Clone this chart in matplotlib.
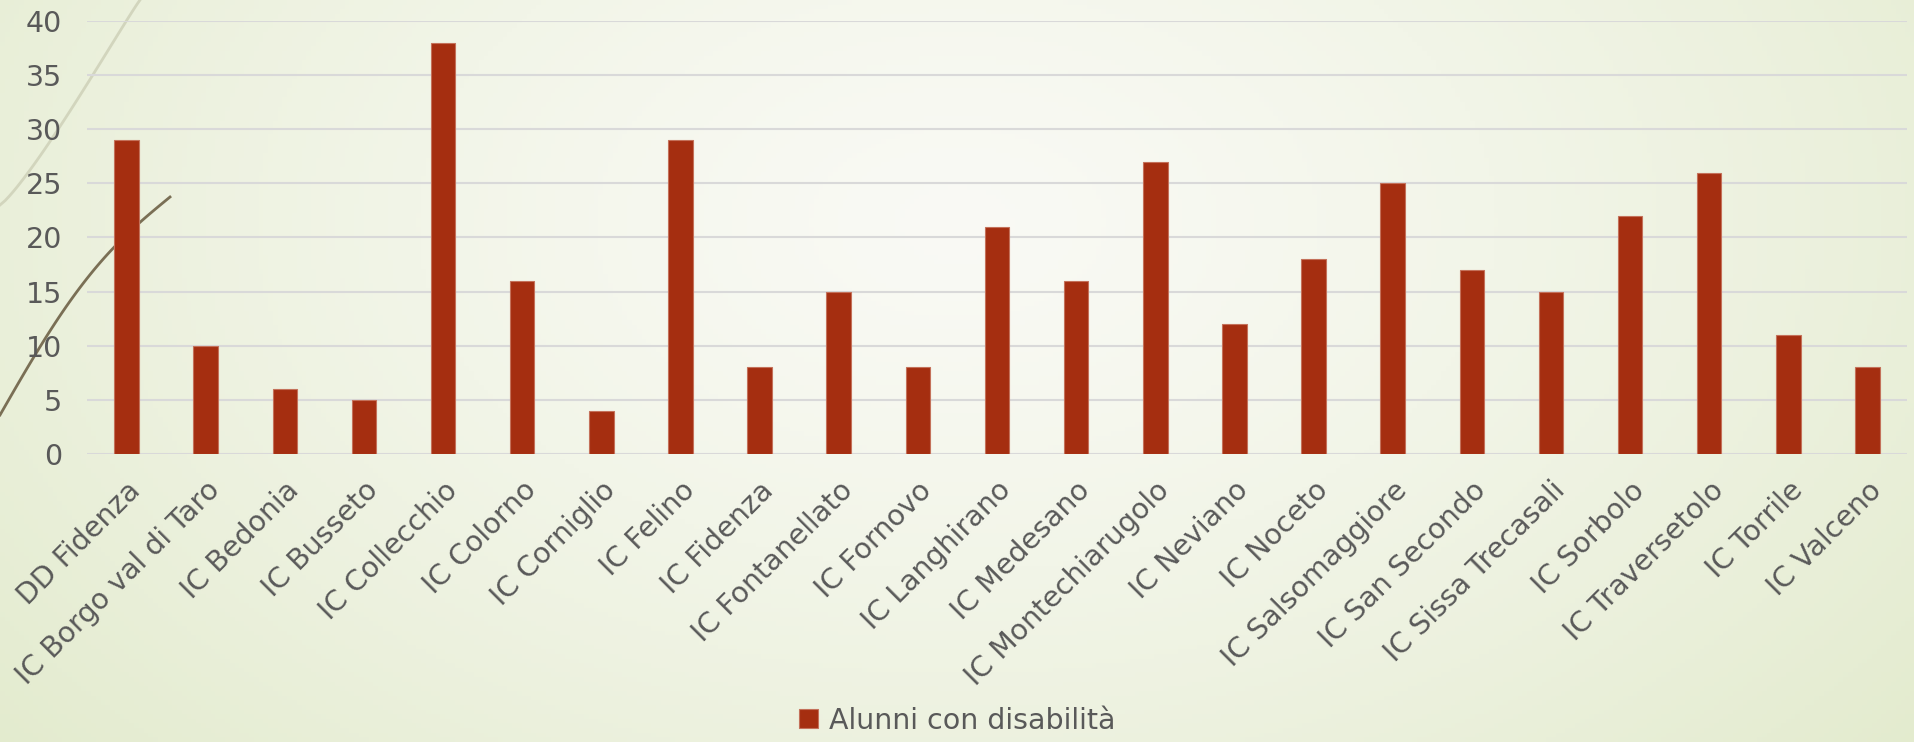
import numpy as np
import matplotlib.pyplot as plt

# data
scuole = ["DD Fidenza", "IC Borgo val di Taro", "IC Bedonia", "IC Busseto",
          "IC Collecchio", "IC Colorno", "IC Corniglio", "IC Felino",
          "IC Fidenza", "IC Fontanellato", "IC Fornovo", "IC Langhirano",
          "IC Medesano", "IC Montechiarugolo", "IC Neviano", "IC Noceto",
          "IC Salsomaggiore", "IC San Secondo", "IC Sissa Trecasali",
          "IC Sorbolo", "IC Traversetolo", "IC Torrile", "IC Valceno"]
alunni = [29, 10, 6, 5, 38, 16, 4, 29, 8, 15, 8, 21, 16, 27, 12, 18, 25, 17,
          15, 22, 26, 11, 8]
y_ticks = [0, 5, 10, 15, 20, 25, 30, 35, 40]
legend_label = "Alunni con disabilità"

plt.rcParams['font.family'] = ['DejaVu Sans']
testo = '#595959'

fig = plt.figure(figsize=(19.15, 7.42), dpi=100)

# background gradient (light green edges, paler centre)
bg = fig.add_axes([0, 0, 1, 1], zorder=0)
xx, yy = np.meshgrid(np.linspace(0, 1, 400), np.linspace(0, 1, 160))
d = np.sqrt(((xx - 0.5) / 0.72) ** 2 + ((yy - 0.3) / 1.2) ** 2)
d = np.clip(d, 0, 1)
c_centre = np.array([0.978, 0.98, 0.96])
c_edge = np.array([0.88, 0.915, 0.79])
img = c_centre + (c_edge - c_centre) * d[..., None] ** 1.3
bg.imshow(img, extent=[0, 1915, 742, 0], aspect='auto')
# decorative curves on the left
t = np.linspace(0, 1, 50)
bg.plot(140 * t ** 0.85, 205 * (1 - t) ** 1.05, color='#d2d5bd', lw=2)
bg.plot(170 * t, 415 - 218 * t - 25 * np.sin(np.pi * t), color='#7a6f55', lw=2)
bg.set_xlim(0, 1915)
bg.set_ylim(742, 0)
bg.axis('off')

ax = fig.add_axes([87 / 1915, 1 - 454 / 742, 1820 / 1915, 433 / 742], zorder=1)
ax.patch.set_alpha(0)
x = np.arange(len(scuole))
ax.bar(x, alunni, width=0.31, color='#a52e10', edgecolor='#c4715a',
       linewidth=0.8, label=legend_label, zorder=3)
ax.set_xlim(-0.5, len(scuole) - 0.5)
ax.set_ylim(0, 40)
ax.set_yticks(y_ticks)
ax.grid(axis='y', color='#d9d9d9', linewidth=1.5, zorder=0)
ax.set_axisbelow(True)
for s in ax.spines.values():
    s.set_visible(False)
ax.tick_params(axis='both', length=0, colors=testo, labelsize=20.5)
ax.tick_params(axis='y', pad=18)
ax.set_xticks(x)
ax.set_xticklabels(scuole, rotation=45, ha='right', rotation_mode='anchor')
ax.tick_params(axis='x', pad=16)

fig.legend(loc='lower center', bbox_to_anchor=(0.5, -0.025), frameon=False,
           fontsize=20.5, labelcolor=testo, handlelength=0.65, handleheight=0.65,
           handletextpad=0.4)

fig.savefig('out.png', dpi=100)
